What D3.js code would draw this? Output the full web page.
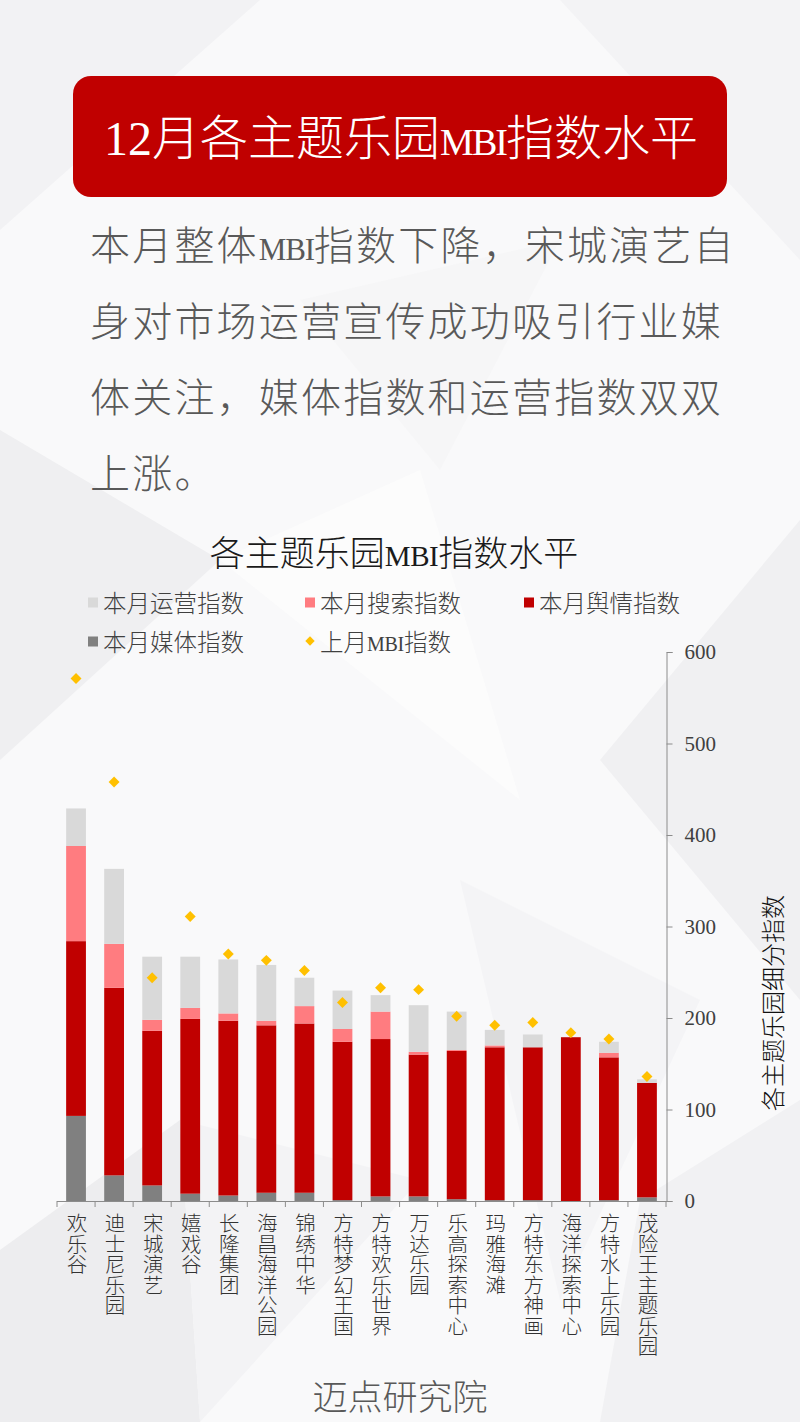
<!DOCTYPE html>
<html lang="zh-CN">
<head>
  <meta charset="UTF-8">
  <title>12月各主题乐园MBI指数水平</title>
  <script src="https://d3js.org/d3.v7.min.js"></script>
  <style>
    body { margin: 0; padding: 0; background: #f8f8f9; }
    svg { display: block; }
    .cjk { font-family: "Noto Sans CJK SC", "Noto Sans", sans-serif; font-weight: 300; }
    .serif { font-family: "Liberation Serif", "DejaVu Serif", serif; }
  </style>
</head>
<body>
<svg id="chart" width="800" height="1422"></svg>

<script>
  const parks = ['欢乐谷','迪士尼乐园','宋城演艺','嬉戏谷','长隆集团','海昌海洋公园','锦绣中华','方特梦幻王国',
                 '方特欢乐世界','万达乐园','乐高探索中心','玛雅海滩','方特东方神画','海洋探索中心','方特水上乐园','茂险王主题乐园'];
  const media   = [93, 28, 17, 8, 6, 9, 9, 1, 5, 5, 2, 1, 1, 0, 1, 4];
  const opinion = [191, 205, 169, 191, 191, 183, 185, 173, 172, 155, 162, 167, 167, 179, 156, 125];
  const search  = [104, 48, 12, 12, 8, 5, 19, 14, 30, 3, 1, 2, 0, 0, 5, 0];
  const ops     = [41, 82, 69, 56, 59, 61, 31, 42, 18, 51, 42, 17, 14, 0, 12, 4];
  const lastMBI = [571, 458, 244, 311, 270, 263, 252, 217, 233, 231, 202, 192, 195, 184, 177, 136];
  const yTicks  = [0, 100, 200, 300, 400, 500, 600];

  const paragraph = ['本月整体MBI指数下降，宋城演艺自', '身对市场运营宣传成功吸引行业媒', '体关注，媒体指数和运营指数双双', '上涨。'];

  const keys = ['media', 'opinion', 'search', 'ops'];
  const colors = { media: '#808080', opinion: '#c00000', search: '#ff7c80', ops: '#d9d9d9' };
  const rows = parks.map((p, i) => ({ park: p, media: media[i], opinion: opinion[i], search: search[i], ops: ops[i], last: lastMBI[i] }));

  const svg = d3.select('#chart');

  // latin "MBI" set a bit smaller and tighter so it stays narrow like the original
  function mixText(t, str, mbiSize, mbiSpacing) {
    str.split(/(MBI)/).forEach(part => {
      if (!part) return;
      const s = t.append('tspan').text(part);
      if (part === 'MBI') {
        s.attr('class', 'serif').attr('font-size', mbiSize).attr('letter-spacing', mbiSpacing);
      }
    });
  }

  // low-poly background
  const bg = svg.append('g');
  bg.append('rect').attr('width', 800).attr('height', 1422).attr('fill', '#f9f9fa');
  const polys = [
    [[0,0],[260,0],[0,230], '#f2f2f4'],
    [[560,0],[800,0],[800,260], '#f3f3f5'],
    [[0,430],[220,560],[0,760], '#efeff1'],
    [[220,560],[420,470],[520,800],'#fcfcfc'],
    [[600,760],[800,520],[800,1000],'#f0f0f2'],
    [[0,1250],[180,1120],[200,1422],[0,1422],'#ededef'],
    [[180,1120],[420,1180],[200,1422],'#f3f3f5'],
    [[460,880],[700,1000],[560,1300],'#f4f4f6'],
    [[640,1200],[800,1100],[800,1422],[600,1422],'#f1f1f3'],
    [[300,300],[560,240],[440,470],'#f6f6f7']
  ];
  polys.forEach(p => {
    const fill = p[p.length - 1];
    bg.append('polygon').attr('points', p.slice(0, -1).map(d => d.join(',')).join(' ')).attr('fill', fill);
  });

  // header box
  svg.append('rect').attr('x', 73).attr('y', 76).attr('width', 654).attr('height', 121)
    .attr('rx', 18).attr('fill', '#c00000');
  const head = svg.append('text').attr('class', 'cjk').attr('x', 401).attr('y', 155)
    .attr('text-anchor', 'middle').attr('fill', '#fff').attr('font-size', 48);
  head.append('tspan').attr('class', 'serif').text('12');
  mixText(head, '月各主题乐园MBI指数水平', 38, -2);

  // paragraph
  paragraph.forEach((line, i) => {
    const t = svg.append('text').attr('class', 'cjk').attr('x', 90).attr('y', 260 + i * 76)
      .attr('fill', '#595959').attr('font-size', 40).attr('letter-spacing', 2.2);
    mixText(t, line, 31, -1.2);
  });

  // chart title
  const title = svg.append('text').attr('class', 'cjk').attr('x', 394).attr('y', 566)
    .attr('text-anchor', 'middle').attr('fill', '#1a1a1a').attr('font-size', 35).attr('font-weight', 400);
  mixText(title, '各主题乐园MBI指数水平', 29, -0.5);

  // legend
  const legendItems = [
    { label: '本月运营指数', color: colors.ops, x: 88, y: 603 },
    { label: '本月搜索指数', color: colors.search, x: 305, y: 603 },
    { label: '本月舆情指数', color: colors.opinion, x: 524, y: 603 },
    { label: '本月媒体指数', color: colors.media, x: 88, y: 642 },
    { label: '上月MBI指数', color: '#ffc000', x: 305, y: 642, diamond: true }
  ];
  const lg = svg.append('g');
  legendItems.forEach(d => {
    if (d.diamond) {
      lg.append('path').attr('d', d3.symbol(d3.symbolSquare, 44)())
        .attr('transform', `translate(${d.x + 5},${d.y - 1}) rotate(45)`).attr('fill', d.color);
    } else {
      lg.append('rect').attr('x', d.x).attr('y', d.y - 5.5).attr('width', 10).attr('height', 10).attr('fill', d.color);
    }
    const t = lg.append('text').attr('class', 'cjk').attr('x', d.x + 15).attr('y', d.y + 8.5)
      .attr('fill', '#404040').attr('font-size', 23.5);
    mixText(t, d.label, 20, -0.3);
  });

  // scales
  const x = d3.scaleBand().domain(parks).range([57, 666]).paddingInner(0.48).paddingOuter(0.24);
  const y = d3.scaleLinear().domain([0, 600]).range([1201, 652]);

  const stack = d3.stack().keys(keys)(rows);

  svg.append('g').selectAll('g').data(stack).join('g')
    .attr('fill', d => colors[d.key])
    .selectAll('rect').data(d => d).join('rect')
    .attr('x', d => x(d.data.park))
    .attr('width', x.bandwidth())
    .attr('y', d => y(d[1]))
    .attr('height', d => y(d[0]) - y(d[1]));

  // last month markers
  svg.append('g').selectAll('path').data(rows).join('path')
    .attr('d', d3.symbol(d3.symbolSquare, 60)())
    .attr('transform', d => `translate(${x(d.park) + x.bandwidth() / 2},${y(d.last)}) rotate(45)`)
    .attr('fill', '#ffc000');

  // x axis with ticks at category boundaries
  const xg = svg.append('g');
  xg.append('line').attr('x1', 57).attr('x2', 670).attr('y1', 1201.5).attr('y2', 1201.5)
    .attr('stroke', '#8c8c8c').attr('stroke-width', 1);
  xg.selectAll('.sep').data(d3.range(parks.length + 1)).join('line')
    .attr('x1', i => 57 + i * x.step()).attr('x2', i => 57 + i * x.step())
    .attr('y1', 1201).attr('y2', 1207).attr('stroke', '#8c8c8c');
  xg.selectAll('.lbl').data(parks).join('text')
    .attr('class', 'cjk')
    .attr('x', d => x(d) + x.bandwidth() / 2 + 1)
    .attr('y', 1213)
    .attr('fill', '#333')
    .attr('font-size', 20.5)
    .style('writing-mode', 'vertical-rl')
    .style('text-orientation', 'upright')
    .text(d => d);

  // right y axis
  const yAxis = d3.axisRight(y).tickValues(yTicks).tickSize(6).tickPadding(12);
  const yg = svg.append('g').attr('transform', 'translate(666.5,0)').call(yAxis);
  yg.select('.domain').attr('stroke', '#8c8c8c');
  yg.selectAll('.tick line').attr('stroke', '#8c8c8c');
  yg.selectAll('.tick text').attr('class', 'serif').attr('font-size', 21).attr('fill', '#404040');

  svg.append('text').attr('class', 'cjk')
    .attr('transform', 'translate(771,1003) rotate(-90)')
    .attr('text-anchor', 'middle').attr('dominant-baseline', 'central')
    .attr('fill', '#111').attr('font-size', 24).attr('font-weight', 400)
    .text('各主题乐园细分指数');

  // footer
  svg.append('text').attr('class', 'cjk').attr('x', 400).attr('y', 1410)
    .attr('text-anchor', 'middle').attr('fill', '#595959').attr('font-size', 35)
    .text('迈点研究院');
</script>
</body>
</html>
